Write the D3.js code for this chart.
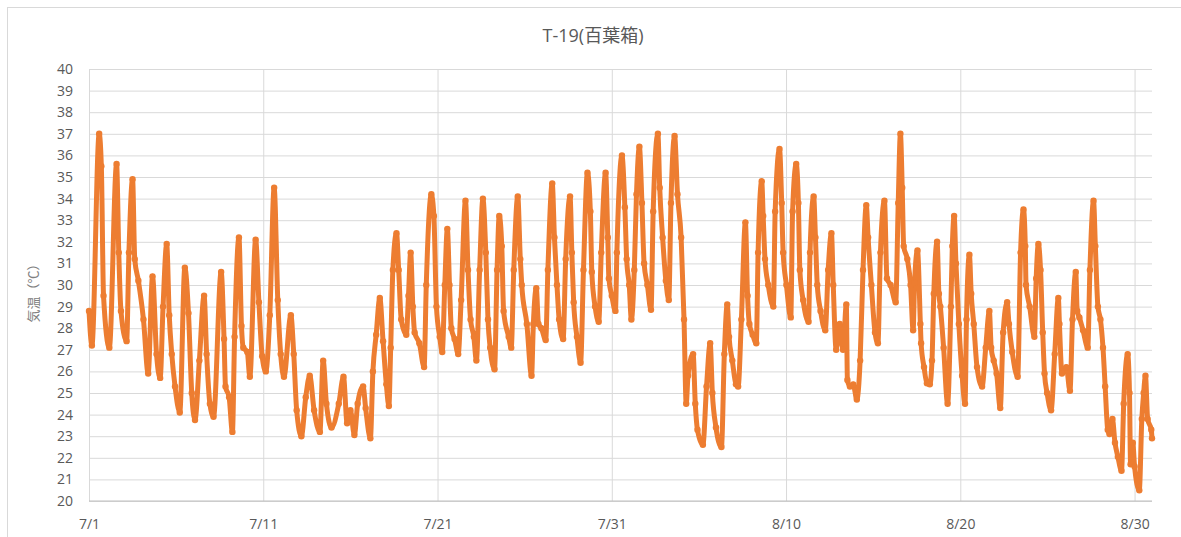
<!DOCTYPE html>
<html>
<head>
<meta charset="utf-8">
<script src="https://cdn.jsdelivr.net/npm/d3@7"></script>
<style>
  body { margin: 0; background: #fff; }
  svg text { font-family: "Open Sans", "Noto Sans CJK JP", sans-serif; }
</style>
</head>
<body>
<div id="chart"></div>
<script>
// readings: [hours since 7/1 00:00, temperature °C]
const julyReadings = [
  [0, 28.8], [4, 27.2], [14, 37.0], [17, 35.5], [20, 29.5],
  [28, 27.1], [38, 35.6], [41, 31.5], [44, 28.8],
  [51.8, 27.4], [55, 31.5], [60, 34.9], [63, 31.2], [68, 30.2], [75, 28.4], [81.5, 25.9],
  [87.5, 30.4], [93, 26.8], [98, 25.7],
  [102, 29.0], [107, 31.9], [110.5, 28.6], [114, 26.8], [118.5, 25.3], [125, 24.1],
  [132, 30.8], [137, 28.7], [141.5, 25.0], [146, 23.75],
  [152, 26.5], [158.5, 29.5], [162, 26.8], [166.5, 24.5], [171.5, 23.9],
  [182, 30.6], [186, 27.5], [188, 25.3], [193, 24.8], [197.5, 23.2],
  [200.5, 27.6], [206.5, 32.2], [210, 28.1], [212.5, 27.1], [218, 26.9], [221.5, 25.75],
  [229.5, 32.1], [234, 29.2], [238.5, 26.7], [243.5, 26.0],
  [249, 28.6], [255, 34.5], [260, 29.3], [264, 26.8], [268.5, 25.75],
  [278, 28.6], [282, 26.8], [286, 24.2], [292.5, 23.0],
  [298.5, 24.8], [304, 25.8], [310, 24.2], [318, 23.2],
  [322.5, 26.5], [327, 24.5], [334, 23.4],
  [344, 24.5], [350.5, 25.75], [355.5, 23.6], [360, 24.2], [365.5, 23.05],
  [370, 24.5], [377.5, 25.3], [381, 24.3], [387.5, 22.9],
  [391, 26.0], [395.5, 27.7], [400.5, 29.4], [405, 27.4], [409.5, 25.4], [413, 24.4],
  [415.5, 27.1], [418.5, 30.7], [423.5, 32.4], [426.5, 30.7], [430, 28.4], [437, 27.7],
  [440, 29.5], [443, 31.5], [446, 29.0], [448.5, 27.8], [455, 27.3], [461.5, 26.2],
  [464.5, 30.0], [471.5, 34.2], [475, 33.2], [478.5, 29.0], [483, 27.6], [486.5, 26.9],
  [490, 30.0], [493.5, 32.6], [496.5, 30.0], [499, 28.0], [503.5, 27.5], [508.5, 26.8],
  [512.5, 29.3], [518.5, 33.9], [522, 30.7], [525.5, 28.4], [530, 27.6], [533.5, 26.5],
  [538, 30.7], [542.5, 34.0], [546.5, 31.5], [549.5, 28.4], [552.5, 27.1], [558.5, 26.1],
  [562, 30.7], [565, 33.2], [568.5, 31.8], [571, 28.8], [578, 27.6], [581.5, 27.1],
  [585, 30.7], [590.5, 34.1], [594, 31.2], [596, 30.0], [603, 28.2], [609.5, 25.8],
  [612, 28.2], [616, 29.85], [619, 28.2], [623, 28.0], [629, 27.45],
  [632, 30.7], [638, 34.7], [641, 32.2], [644.5, 30.0], [647.5, 28.4], [653, 27.5],
  [656.5, 31.2], [662.5, 34.1], [665, 31.5], [667.5, 29.2], [672, 27.6], [677, 26.4],
  [681, 30.7], [686.5, 35.2], [690.5, 33.4], [692.5, 30.6], [697, 29.0], [702, 28.3],
  [705.5, 31.5], [711.5, 35.2], [714.5, 32.2], [716, 30.3], [720, 29.5], [725, 28.8],
  [727, 31.5], [734, 36.0], [738, 33.6], [740.5, 31.2]
];

const augustReadings = [
  [744, 30.0], [747, 28.4],
  [751, 30.7], [754, 34.2], [758, 36.4], [761.5, 33.8], [764.5, 31.0], [769, 30.0], [774, 28.85],
  [777, 33.4], [783.5, 37.0], [786, 34.5], [790, 32.2], [794.5, 30.2], [798.5, 29.3],
  [801.5, 33.8], [806.5, 36.9], [810.5, 34.2], [815.5, 32.2], [819.5, 28.4], [822.5, 24.5],
  [825, 25.8], [832, 26.8], [835, 24.5], [838, 23.3], [845.5, 22.6],
  [850.5, 25.3], [855.5, 27.3], [858.5, 25.0], [863.5, 23.4], [871, 22.5],
  [875, 26.8], [879, 29.1], [881.5, 27.6], [886, 26.5], [891, 25.4], [894, 25.3],
  [898.5, 28.4], [904, 32.9], [907, 29.5], [909.5, 28.2], [914, 27.7], [919, 27.3],
  [921.5, 31.5], [926.5, 34.8], [928.5, 33.2], [931, 31.2], [935.5, 30.0], [942.5, 29.0],
  [945, 33.4], [951, 36.3], [954, 33.8], [956, 31.5], [960.5, 30.0], [966.5, 28.5],
  [969, 33.4], [974, 35.6], [977, 33.8], [979, 30.7], [983.5, 29.3], [991, 28.3],
  [993, 31.5], [998, 34.1], [1000.5, 32.2], [1003, 30.0], [1007.5, 28.8], [1014, 27.9],
  [1018, 30.7], [1022.5, 32.4], [1025, 30.0], [1029, 27.0], [1034, 28.2], [1038.5, 27.0],
  [1043, 29.1], [1044.5, 25.6], [1048, 25.3], [1052.5, 25.4], [1057.5, 24.7],
  [1062, 26.5], [1066, 30.7], [1070.5, 33.7], [1073, 32.2], [1077.5, 30.0], [1082.5, 27.8], [1086.5, 27.3],
  [1090, 31.5], [1095.5, 33.9], [1099, 30.3], [1104, 30.0], [1111, 29.2],
  [1114.5, 33.8], [1117.5, 37.0], [1120, 34.5], [1122, 31.8], [1127, 31.2], [1131.5, 30.0], [1135, 27.9],
  [1137, 30.1], [1141, 31.6], [1145, 28.2], [1146, 27.3], [1150, 26.2], [1154, 25.45], [1158, 25.4],
  [1161, 26.5], [1163.5, 29.6], [1168, 32.0], [1170.5, 29.6], [1172.5, 29.0], [1177, 27.1], [1182.5, 24.5],
  [1187, 29.0], [1189, 31.8], [1191.5, 33.2], [1194, 31.0], [1198, 28.2], [1202.5, 25.8], [1206.5, 24.5],
  [1208.5, 28.4], [1212.5, 31.4], [1215, 29.6], [1218.5, 28.2], [1223, 26.2], [1230, 25.3],
  [1235, 27.1], [1240, 28.8], [1242.5, 27.1], [1246, 26.5], [1250, 25.9], [1255, 24.3],
  [1259, 27.8], [1264.5, 29.2], [1267, 28.2], [1271.5, 26.9], [1279, 25.75],
  [1283, 31.5], [1287, 33.5], [1289.5, 31.8], [1290.5, 30.0], [1295.5, 29.0], [1302, 27.6],
  [1304.5, 30.3], [1307.5, 31.9], [1310.5, 30.7], [1313.5, 27.8], [1316, 25.9], [1319.5, 25.0], [1325, 24.2],
  [1330, 26.8], [1335, 29.4], [1336.5, 28.2], [1340, 25.9], [1346, 26.2], [1351, 25.1],
  [1354.5, 28.4], [1359, 30.6], [1361, 28.8], [1364, 28.5], [1369, 27.9], [1375.5, 27.1],
  [1378.5, 30.7], [1383.5, 33.9], [1386, 31.8], [1389.5, 29.0], [1393, 28.4], [1396.5, 27.1], [1399.5, 25.3], [1403, 23.3],
  [1405.5, 23.1], [1409.5, 23.8], [1413, 22.7], [1417, 22.05], [1422, 21.4],
  [1425, 24.5], [1430.5, 26.8], [1433, 25.0], [1434.5, 21.7], [1437.5, 22.7], [1440, 21.6], [1446.5, 20.5],
  [1450, 23.8], [1452.5, 25.0], [1455, 25.8], [1458, 23.8], [1463, 23.3], [1464, 22.9]
];

const xTickHours = [0, 240, 480, 720, 960, 1200, 1440];
const xTickLabels = ["7/1", "7/11", "7/21", "7/31", "8/10", "8/20", "8/30"];
const yTicks = d3.range(20, 41, 1);

const chartTitle = "T-19(百葉箱)";
const yTitle = "気温（℃）";

const W = 1181, H = 537;
const margin = { top: 69, right: 29, bottom: 36, left: 89 };
const width = W - margin.left - margin.right;   // 1063
const height = H - margin.top - margin.bottom;  // 432
const lineColor = "#ED7D31";

const svg = d3.select("#chart").append("svg")
    .attr("width", W)
    .attr("height", H);

// outer chart border
svg.append("rect")
    .attr("x", 7.5).attr("y", 7.5)
    .attr("width", W).attr("height", H)
    .attr("fill", "#fff")
    .attr("stroke", "#d9d9d9");

svg.append("text")
    .attr("x", 593).attr("y", 42)
    .attr("text-anchor", "middle")
    .style("font-size", "18px")
    .style("fill", "#595959")
    .text(chartTitle);

svg.append("text")
    .attr("transform", "translate(38,290) rotate(-90)")
    .attr("text-anchor", "middle")
    .style("font-size", "13px")
    .style("fill", "#808080")
    .style("font-family", "'Noto Sans CJK JP', sans-serif")
    .text(yTitle);

const g = svg.append("g")
    .attr("transform", `translate(${margin.left},${margin.top})`);

const x = d3.scaleLinear().domain([0, 1464]).range([0, width]);
const y = d3.scaleLinear().domain([20, 40]).range([height, 0]);

// horizontal grid + y labels
const yAxis = g.append("g")
    .call(d3.axisLeft(y).tickValues(yTicks).tickSize(-width).tickPadding(16));
yAxis.select(".domain").remove();
yAxis.selectAll(".tick line").attr("stroke", "#d9d9d9");
yAxis.selectAll(".tick text")
    .style("font-size", "14px")
    .style("fill", "#595959");

// vertical grid + x labels
const xAxis = g.append("g")
    .attr("transform", `translate(0,${height})`)
    .call(d3.axisBottom(x)
        .tickValues(xTickHours)
        .tickSize(-height)
        .tickPadding(18)
        .tickFormat((d, i) => xTickLabels[i]));
xAxis.select(".domain").remove();
xAxis.selectAll(".tick line").attr("stroke", "#d9d9d9");
xAxis.selectAll(".tick text")
    .style("font-size", "14px")
    .style("fill", "#595959");

// bottom axis line
g.append("line")
    .attr("x1", 0).attr("x2", width)
    .attr("y1", height).attr("y2", height)
    .attr("stroke", "#bfbfbf");

const readings = julyReadings.concat(augustReadings);

const line = d3.line()
    .x(d => x(d[0]))
    .y(d => y(d[1]))
    .curve(d3.curveMonotoneX);

g.append("path")
    .datum(readings)
    .attr("fill", "none")
    .attr("stroke", lineColor)
    .attr("stroke-width", 5)
    .attr("stroke-linejoin", "round")
    .attr("stroke-linecap", "round")
    .attr("d", line);

g.selectAll(".pt")
    .data(readings)
    .enter().append("circle")
    .attr("class", "pt")
    .attr("cx", d => x(d[0]))
    .attr("cy", d => y(d[1]))
    .attr("r", 3.2)
    .attr("fill", lineColor);
</script>
</body>
</html>
